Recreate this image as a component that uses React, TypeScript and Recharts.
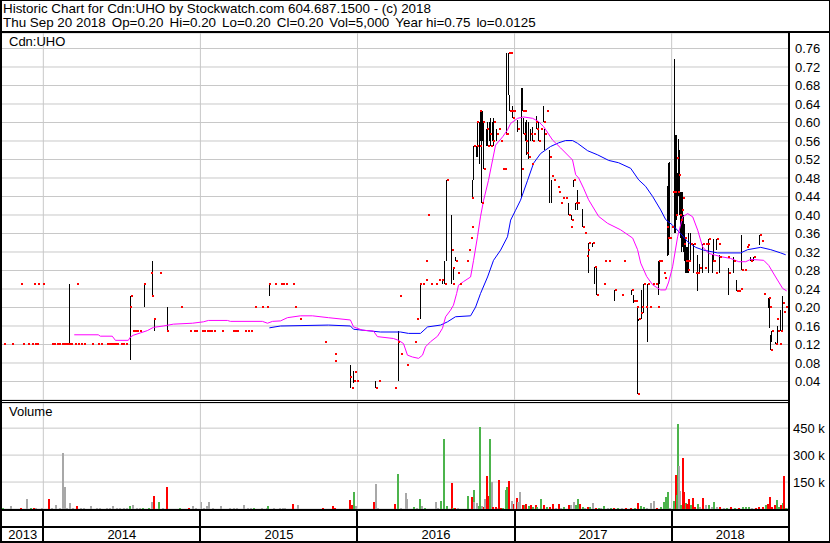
import React from "react";
import {
  ComposedChart,
  BarChart,
  Bar,
  Line,
  XAxis,
  YAxis,
  CartesianGrid,
  ReferenceLine,
  Cell,
} from "recharts";

const FONT = '"Liberation Sans", Arial, sans-serif';

// dates are decimal years
// days with a range: [date, high, low, close]
const priceBars: [number, number, number, number][] = [
  [2014.166, 0.25, 0.12, 0.12], [2014.554, 0.225, 0.087, 0.2], [2014.643, 0.25, 0.2, 0.25],
  [2014.694, 0.3, 0.225, 0.225], [2014.707, 0.175, 0.15, 0.175], [2014.79, 0.2, 0.15, 0.15],
  [2015.439, 0.25, 0.225, 0.25], [2015.955, 0.075, 0.025, 0.05], [2015.975, 0.063, 0.036, 0.04],
  [2016.115, 0.04, 0.025, 0.025], [2016.261, 0.15, 0.04, 0.125], [2016.401, 0.25, 0.175, 0.25],
  [2016.541, 0.26, 0.25, 0.26], [2016.554, 0.3, 0.25, 0.25], [2016.567, 0.475, 0.3, 0.475],
  [2016.599, 0.4, 0.25, 0.325], [2016.611, 0.285, 0.26, 0.285], [2016.624, 0.31, 0.3, 0.3],
  [2016.732, 0.475, 0.437, 0.437], [2016.739, 0.55, 0.475, 0.55], [2016.758, 0.55, 0.525, 0.55],
  [2016.764, 0.6, 0.525, 0.6], [2016.777, 0.6, 0.51, 0.55], [2016.783, 0.625, 0.56, 0.625],
  [2016.79, 0.625, 0.425, 0.425], [2016.796, 0.625, 0.56, 0.6], [2016.803, 0.6, 0.5, 0.5],
  [2016.822, 0.585, 0.55, 0.585], [2016.828, 0.6, 0.55, 0.55], [2016.841, 0.6, 0.56, 0.575],
  [2016.847, 0.61, 0.55, 0.55], [2016.86, 0.6, 0.56, 0.56], [2016.866, 0.61, 0.55, 0.6],
  [2016.885, 0.585, 0.56, 0.575], [2016.949, 0.75, 0.575, 0.575], [2016.962, 0.75, 0.66, 0.75],
  [2016.968, 0.66, 0.625, 0.625], [2016.987, 0.635, 0.61, 0.61], [2017.019, 0.605, 0.58, 0.585],
  [2017.045, 0.675, 0.437, 0.5], [2017.051, 0.675, 0.625, 0.625], [2017.057, 0.61, 0.575, 0.575],
  [2017.07, 0.6, 0.56, 0.56], [2017.076, 0.605, 0.53, 0.535], [2017.089, 0.6, 0.52, 0.525],
  [2017.102, 0.585, 0.56, 0.575], [2017.115, 0.59, 0.56, 0.56], [2017.14, 0.615, 0.585, 0.585],
  [2017.153, 0.6, 0.56, 0.56], [2017.185, 0.635, 0.6, 0.6], [2017.191, 0.585, 0.54, 0.575],
  [2017.223, 0.54, 0.425, 0.525], [2017.236, 0.475, 0.425, 0.485], [2017.344, 0.425, 0.4, 0.4],
  [2017.363, 0.4, 0.39, 0.39], [2017.376, 0.475, 0.46, 0.475], [2017.389, 0.425, 0.41, 0.425],
  [2017.401, 0.455, 0.41, 0.425], [2017.433, 0.413, 0.375, 0.375], [2017.471, 0.34, 0.275, 0.34],
  [2017.497, 0.34, 0.33, 0.34], [2017.51, 0.287, 0.25, 0.287], [2017.522, 0.287, 0.226, 0.226],
  [2017.637, 0.237, 0.213, 0.237], [2017.745, 0.237, 0.226, 0.237], [2017.758, 0.226, 0.21, 0.213],
  [2017.783, 0.2, 0.0125, 0.0125], [2017.79, 0.175, 0.17, 0.175], [2017.809, 0.238, 0.175, 0.2],
  [2017.822, 0.25, 0.188, 0.25], [2017.847, 0.25, 0.125, 0.25], [2017.917, 0.3, 0.226, 0.3],
  [2017.924, 0.3, 0.25, 0.3], [2017.975, 0.463, 0.312, 0.35], [2017.981, 0.513, 0.313, 0.35],
  [2017.987, 0.515, 0.348, 0.35], [2018.019, 0.738, 0.36, 0.45], [2018.025, 0.574, 0.36, 0.4],
  [2018.032, 0.574, 0.389, 0.524], [2018.038, 0.49, 0.4, 0.45], [2018.045, 0.564, 0.44, 0.487],
  [2018.051, 0.54, 0.4, 0.4], [2018.057, 0.45, 0.35, 0.39], [2018.064, 0.45, 0.32, 0.41],
  [2018.07, 0.45, 0.33, 0.437], [2018.076, 0.4, 0.32, 0.337], [2018.083, 0.38, 0.3, 0.35],
  [2018.089, 0.348, 0.275, 0.3], [2018.096, 0.33, 0.275, 0.3], [2018.102, 0.33, 0.275, 0.28],
  [2018.108, 0.36, 0.275, 0.3], [2018.121, 0.36, 0.3, 0.337], [2018.14, 0.337, 0.275, 0.337],
  [2018.166, 0.313, 0.236, 0.275], [2018.178, 0.295, 0.275, 0.285], [2018.197, 0.337, 0.275, 0.337],
  [2018.236, 0.349, 0.275, 0.349], [2018.261, 0.313, 0.275, 0.3], [2018.268, 0.349, 0.3, 0.3],
  [2018.287, 0.349, 0.325, 0.349], [2018.306, 0.313, 0.275, 0.31], [2018.363, 0.285, 0.226, 0.275],
  [2018.395, 0.31, 0.275, 0.3], [2018.414, 0.26, 0.236, 0.236], [2018.446, 0.356, 0.28, 0.28],
  [2018.503, 0.31, 0.3, 0.3], [2018.522, 0.31, 0.3, 0.31], [2018.561, 0.356, 0.335, 0.356],
  [2018.618, 0.22, 0.198, 0.22], [2018.624, 0.218, 0.155, 0.2], [2018.631, 0.14, 0.108, 0.108],
  [2018.637, 0.15, 0.125, 0.15], [2018.662, 0.125, 0.12, 0.12], [2018.675, 0.16, 0.12, 0.15],
  [2018.694, 0.195, 0.15, 0.15], [2018.707, 0.224, 0.15, 0.21],
];

// days that traded at one price: [date, price]
const singleTrades: [number, number][] = [
  [2013.752, 0.12], [2013.803, 0.12], [2013.86, 0.25], [2013.873, 0.12], [2013.904, 0.12],
  [2013.93, 0.12], [2013.943, 0.25], [2013.949, 0.12], [2013.962, 0.12], [2013.968, 0.25],
  [2014.0, 0.25], [2014.057, 0.12], [2014.07, 0.12], [2014.089, 0.12], [2014.102, 0.12],
  [2014.121, 0.12], [2014.134, 0.12], [2014.146, 0.12], [2014.159, 0.12], [2014.178, 0.12],
  [2014.204, 0.12], [2014.217, 0.25], [2014.223, 0.12], [2014.242, 0.12], [2014.261, 0.12],
  [2014.312, 0.12], [2014.35, 0.12], [2014.369, 0.12], [2014.408, 0.12], [2014.42, 0.12],
  [2014.433, 0.12], [2014.446, 0.12], [2014.459, 0.12], [2014.471, 0.12], [2014.497, 0.12],
  [2014.51, 0.12], [2014.529, 0.12], [2014.561, 0.225], [2014.573, 0.15], [2014.586, 0.15],
  [2014.599, 0.15], [2014.618, 0.15], [2014.688, 0.275], [2014.745, 0.275], [2014.879, 0.2],
  [2014.936, 0.15], [2014.962, 0.15], [2014.975, 0.15], [2015.013, 0.15], [2015.025, 0.15],
  [2015.045, 0.15], [2015.057, 0.15], [2015.07, 0.15], [2015.089, 0.15], [2015.14, 0.15],
  [2015.21, 0.15], [2015.223, 0.15], [2015.236, 0.15], [2015.287, 0.15], [2015.306, 0.15],
  [2015.325, 0.15], [2015.35, 0.2], [2015.395, 0.2], [2015.427, 0.2], [2015.478, 0.25],
  [2015.51, 0.25], [2015.529, 0.25], [2015.548, 0.25], [2015.592, 0.25], [2015.605, 0.2],
  [2015.631, 0.175], [2015.796, 0.125], [2015.854, 0.1], [2015.86, 0.085], [2015.968, 0.025],
  [2015.981, 0.06], [2016.0, 0.04], [2016.14, 0.04], [2016.242, 0.025], [2016.268, 0.225],
  [2016.28, 0.1], [2016.318, 0.075], [2016.369, 0.125], [2016.382, 0.175], [2016.42, 0.25],
  [2016.433, 0.26], [2016.439, 0.3], [2016.452, 0.4], [2016.471, 0.25], [2016.503, 0.25],
  [2016.522, 0.26], [2016.605, 0.25], [2016.637, 0.275], [2016.65, 0.25], [2016.694, 0.3],
  [2016.707, 0.325], [2016.72, 0.35], [2016.726, 0.375], [2016.898, 0.585], [2016.911, 0.56],
  [2016.924, 0.5], [2016.936, 0.5], [2016.943, 0.575], [2016.975, 0.75], [2016.981, 0.625],
  [2016.994, 0.625], [2017.064, 0.625], [2017.108, 0.51], [2017.121, 0.575], [2017.134, 0.6],
  [2017.166, 0.585], [2017.204, 0.625], [2017.248, 0.475], [2017.274, 0.46], [2017.28, 0.45],
  [2017.293, 0.425], [2017.306, 0.437], [2017.325, 0.437], [2017.357, 0.375], [2017.446, 0.362],
  [2017.459, 0.312], [2017.465, 0.325], [2017.567, 0.25], [2017.573, 0.3], [2017.599, 0.3],
  [2017.682, 0.226], [2017.694, 0.3], [2017.771, 0.213], [2017.777, 0.2], [2017.803, 0.188],
  [2017.834, 0.2], [2017.86, 0.2], [2017.879, 0.25], [2017.898, 0.25], [2017.911, 0.2],
  [2017.93, 0.3], [2017.949, 0.275], [2017.955, 0.263], [2017.968, 0.375], [2018.0, 0.375],
  [2018.006, 0.45], [2018.153, 0.275], [2018.21, 0.285], [2018.217, 0.337], [2018.229, 0.337],
  [2018.28, 0.275], [2018.299, 0.337], [2018.357, 0.31], [2018.427, 0.236], [2018.439, 0.24],
  [2018.465, 0.28], [2018.478, 0.33], [2018.484, 0.335], [2018.573, 0.344], [2018.586, 0.23],
  [2018.669, 0.175], [2018.688, 0.12], [2018.713, 0.19], [2018.726, 0.2], [2018.739, 0.2],
];

// short moving average (magenta)
const shortAvg: [number, number][] = [
  [2014.197, 0.141], [2014.35, 0.141], [2014.363, 0.138], [2014.439, 0.138], [2014.459, 0.129],
  [2014.541, 0.129], [2014.554, 0.136], [2014.573, 0.14], [2014.618, 0.145], [2014.662, 0.15],
  [2014.701, 0.157], [2014.764, 0.16], [2014.828, 0.164], [2014.949, 0.166], [2015.019, 0.169],
  [2015.051, 0.172], [2015.172, 0.172], [2015.191, 0.17], [2015.395, 0.17], [2015.427, 0.166],
  [2015.459, 0.17], [2015.51, 0.171], [2015.554, 0.178], [2015.637, 0.182], [2015.713, 0.182],
  [2015.815, 0.178], [2015.955, 0.173], [2015.975, 0.158], [2016.032, 0.151], [2016.102, 0.149],
  [2016.127, 0.137], [2016.229, 0.133], [2016.261, 0.129], [2016.293, 0.122], [2016.318, 0.097],
  [2016.35, 0.093], [2016.389, 0.09], [2016.414, 0.097], [2016.433, 0.115], [2016.465, 0.126],
  [2016.51, 0.138], [2016.541, 0.155], [2016.561, 0.18], [2016.592, 0.194], [2016.611, 0.205],
  [2016.631, 0.23], [2016.643, 0.248], [2016.675, 0.256], [2016.72, 0.266], [2016.739, 0.302],
  [2016.764, 0.353], [2016.783, 0.396], [2016.803, 0.432], [2016.834, 0.475], [2016.86, 0.519],
  [2016.879, 0.551], [2016.924, 0.569], [2016.955, 0.584], [2016.975, 0.598], [2017.019, 0.609],
  [2017.057, 0.612], [2017.115, 0.609], [2017.153, 0.602], [2017.185, 0.591], [2017.242, 0.562],
  [2017.293, 0.545], [2017.369, 0.519], [2017.389, 0.487], [2017.408, 0.48], [2017.439, 0.458],
  [2017.471, 0.433], [2017.535, 0.397], [2017.592, 0.382], [2017.675, 0.368], [2017.752, 0.35],
  [2017.783, 0.325], [2017.803, 0.296], [2017.841, 0.267], [2017.879, 0.249], [2017.93, 0.238],
  [2017.962, 0.238], [2017.981, 0.255], [2018.006, 0.288], [2018.038, 0.353], [2018.07, 0.396],
  [2018.102, 0.403], [2018.134, 0.396], [2018.166, 0.367], [2018.197, 0.331], [2018.236, 0.317],
  [2018.28, 0.313], [2018.312, 0.31], [2018.376, 0.306], [2018.427, 0.299], [2018.471, 0.299],
  [2018.503, 0.304], [2018.586, 0.302], [2018.618, 0.291], [2018.662, 0.266], [2018.707, 0.241],
  [2018.732, 0.236],
];

// long moving average (blue)
const longAvg: [number, number][] = [
  [2015.439, 0.156], [2015.51, 0.16], [2015.815, 0.162], [2015.955, 0.16], [2015.975, 0.153],
  [2016.146, 0.147], [2016.274, 0.147], [2016.325, 0.144], [2016.401, 0.144], [2016.446, 0.158],
  [2016.529, 0.162], [2016.573, 0.169], [2016.624, 0.18], [2016.72, 0.182], [2016.752, 0.201],
  [2016.783, 0.23], [2016.828, 0.266], [2016.866, 0.302], [2016.911, 0.324], [2016.955, 0.353],
  [2016.975, 0.389], [2017.006, 0.41], [2017.038, 0.432], [2017.083, 0.475], [2017.121, 0.512],
  [2017.166, 0.533], [2017.229, 0.548], [2017.28, 0.556], [2017.325, 0.561], [2017.369, 0.561],
  [2017.401, 0.555], [2017.465, 0.539], [2017.529, 0.53], [2017.599, 0.518], [2017.662, 0.513],
  [2017.739, 0.501], [2017.79, 0.476], [2017.834, 0.462], [2017.879, 0.44], [2017.93, 0.411],
  [2017.962, 0.39], [2018.006, 0.378], [2018.057, 0.36], [2018.102, 0.342], [2018.153, 0.33],
  [2018.204, 0.324], [2018.293, 0.318], [2018.439, 0.318], [2018.484, 0.325], [2018.567, 0.33],
  [2018.631, 0.325], [2018.694, 0.318], [2018.726, 0.314],
];

// volume in thousands: [date, volume, u = up, d = down, n = unchanged]
const volumeBars: [number, number, string][] = [
  [2013.745, 7, "u"], [2013.796, 17, "n"], [2013.86, 7, "d"], [2013.898, 56, "n"], [2013.924, 7, "u"],
  [2013.943, 6, "d"], [2013.955, 6, "n"], [2013.994, 4, "n"], [2014.038, 56, "d"], [2014.057, 6, "n"],
  [2014.083, 22, "n"], [2014.108, 5, "n"], [2014.127, 310, "n"], [2014.14, 122, "n"], [2014.153, 7, "n"],
  [2014.172, 32, "n"], [2014.191, 6, "n"], [2014.217, 15, "d"], [2014.242, 6, "n"], [2014.261, 5, "n"],
  [2014.306, 15, "n"], [2014.344, 6, "n"], [2014.363, 5, "n"], [2014.408, 6, "n"], [2014.427, 7, "n"],
  [2014.446, 15, "n"], [2014.471, 6, "n"], [2014.49, 7, "n"], [2014.516, 5, "n"], [2014.535, 8, "n"],
  [2014.554, 15, "u"], [2014.573, 22, "n"], [2014.599, 6, "n"], [2014.618, 6, "n"], [2014.637, 8, "u"],
  [2014.675, 6, "u"], [2014.694, 41, "n"], [2014.707, 72, "d"], [2014.739, 41, "u"], [2014.764, 5, "n"],
  [2014.79, 122, "d"], [2014.873, 8, "u"], [2014.93, 5, "d"], [2014.955, 15, "n"], [2014.975, 6, "n"],
  [2015.006, 41, "n"], [2015.025, 8, "n"], [2015.045, 15, "n"], [2015.057, 41, "n"], [2015.083, 7, "n"],
  [2015.134, 15, "n"], [2015.191, 5, "n"], [2015.217, 5, "n"], [2015.236, 5, "n"], [2015.28, 22, "n"],
  [2015.306, 5, "n"], [2015.325, 5, "n"], [2015.344, 8, "u"], [2015.395, 5, "n"], [2015.427, 8, "n"],
  [2015.433, 15, "u"], [2015.471, 5, "n"], [2015.51, 8, "n"], [2015.529, 8, "n"], [2015.541, 8, "n"],
  [2015.592, 28, "d"], [2015.624, 22, "n"], [2015.783, 5, "d"], [2015.847, 15, "d"], [2015.86, 5, "d"],
  [2015.955, 48, "d"], [2015.968, 22, "d"], [2015.975, 93, "u"], [2015.994, 15, "n"], [2016.108, 41, "d"],
  [2016.121, 137, "n"], [2016.134, 5, "n"], [2016.236, 26, "d"], [2016.261, 195, "u"], [2016.28, 7, "n"],
  [2016.306, 87, "n"], [2016.318, 56, "n"], [2016.363, 11, "u"], [2016.382, 6, "n"], [2016.401, 54, "u"],
  [2016.414, 17, "n"], [2016.433, 6, "u"], [2016.497, 41, "n"], [2016.51, 6, "n"], [2016.535, 45, "u"],
  [2016.554, 388, "u"], [2016.567, 17, "u"], [2016.599, 147, "d"], [2016.611, 8, "u"], [2016.624, 8, "d"],
  [2016.643, 6, "n"], [2016.701, 72, "u"], [2016.732, 68, "d"], [2016.739, 106, "u"], [2016.745, 41, "n"],
  [2016.758, 32, "n"], [2016.771, 15, "u"], [2016.783, 457, "u"], [2016.796, 15, "n"], [2016.803, 12, "d"],
  [2016.815, 54, "n"], [2016.822, 184, "d"], [2016.834, 72, "d"], [2016.841, 124, "d"], [2016.847, 392, "u"],
  [2016.854, 149, "n"], [2016.866, 12, "d"], [2016.879, 12, "d"], [2016.892, 6, "n"], [2016.904, 161, "d"],
  [2016.917, 6, "d"], [2016.924, 6, "u"], [2016.943, 106, "u"], [2016.955, 124, "u"], [2016.962, 41, "n"],
  [2016.968, 156, "d"], [2016.981, 45, "n"], [2016.994, 26, "d"], [2017.013, 59, "d"], [2017.025, 41, "n"],
  [2017.032, 30, "u"], [2017.038, 97, "n"], [2017.051, 22, "d"], [2017.064, 20, "u"], [2017.076, 26, "d"],
  [2017.089, 15, "u"], [2017.102, 22, "d"], [2017.115, 12, "u"], [2017.134, 22, "d"], [2017.146, 10, "u"],
  [2017.166, 54, "u"], [2017.185, 22, "d"], [2017.204, 12, "u"], [2017.223, 10, "d"], [2017.242, 26, "d"],
  [2017.261, 8, "n"], [2017.28, 26, "d"], [2017.299, 6, "n"], [2017.318, 12, "u"], [2017.344, 22, "d"],
  [2017.357, 22, "n"], [2017.376, 37, "n"], [2017.389, 22, "u"], [2017.401, 56, "u"], [2017.414, 26, "d"],
  [2017.433, 10, "u"], [2017.446, 6, "n"], [2017.465, 12, "d"], [2017.478, 10, "u"], [2017.497, 32, "n"],
  [2017.516, 6, "d"], [2017.535, 8, "u"], [2017.548, 6, "n"], [2017.567, 15, "u"], [2017.592, 6, "n"],
  [2017.611, 8, "u"], [2017.631, 6, "d"], [2017.656, 6, "u"], [2017.682, 6, "n"], [2017.707, 6, "d"],
  [2017.739, 5, "d"], [2017.764, 6, "u"], [2017.783, 32, "d"], [2017.803, 15, "u"], [2017.822, 12, "u"],
  [2017.841, 8, "n"], [2017.866, 32, "n"], [2017.885, 45, "n"], [2017.904, 6, "d"], [2017.93, 10, "u"],
  [2017.949, 41, "u"], [2017.962, 68, "u"], [2017.975, 93, "u"], [2017.987, 6, "n"], [2018.013, 45, "u"],
  [2018.025, 189, "d"], [2018.032, 77, "u"], [2018.038, 472, "u"], [2018.045, 240, "n"], [2018.051, 100, "n"],
  [2018.057, 20, "u"], [2018.07, 282, "d"], [2018.076, 97, "d"], [2018.089, 32, "u"], [2018.096, 30, "d"],
  [2018.108, 54, "d"], [2018.121, 20, "u"], [2018.134, 59, "d"], [2018.146, 12, "d"], [2018.166, 26, "u"],
  [2018.178, 12, "n"], [2018.197, 59, "d"], [2018.217, 20, "n"], [2018.236, 22, "u"], [2018.255, 10, "n"],
  [2018.268, 41, "u"], [2018.287, 12, "n"], [2018.306, 10, "d"], [2018.331, 8, "n"], [2018.35, 6, "u"],
  [2018.376, 10, "d"], [2018.401, 6, "u"], [2018.427, 8, "d"], [2018.452, 10, "u"], [2018.471, 12, "u"],
  [2018.49, 10, "u"], [2018.51, 6, "n"], [2018.535, 8, "d"], [2018.554, 10, "d"], [2018.58, 12, "d"],
  [2018.599, 20, "u"], [2018.611, 26, "d"], [2018.624, 68, "d"], [2018.637, 12, "d"], [2018.656, 22, "d"],
  [2018.669, 48, "u"], [2018.682, 12, "u"], [2018.694, 22, "d"], [2018.707, 32, "u"], [2018.713, 184, "d"],
  [2018.726, 8, "u"], [2018.739, 5, "n"],
];

const priceTicks = [0.04, 0.08, 0.12, 0.16, 0.2, 0.24, 0.28, 0.32, 0.36, 0.4, 0.44, 0.48, 0.52, 0.56, 0.6, 0.64, 0.68, 0.72, 0.76];
const volumeTicks = [150, 300, 450];
const yearStarts = [2014, 2015, 2016, 2017, 2018];
const yearLabels = ["2013", "2014", "2015", "2016", "2017", "2018"];
const quoteItems = ["Thu Sep 20 2018", "Op=0.20", "Hi=0.20", "Lo=0.20", "Cl=0.20", "Vol=5,000", "Year hi=0.75", "lo=0.0125"];

const X_DOMAIN: [number, number] = [2013.737, 2018.747];
const VOL_COLORS: Record<string, string> = { u: "#4cb44c", d: "#ff0000", n: "#a8a8a8" };
const GRID = "#c8c8c8";

const W = 830;
const PLOT_LEFT = 2;
const AXIS_W = 41;
const PLOT_W = W - PLOT_LEFT - AXIS_W;

const priceData = [
  ...priceBars.map(([t, hi, lo, cl]) => ({ t, range: [lo, hi], cl })),
  ...singleTrades.map(([t, p]) => ({ t, cl: p })),
  ...shortAvg.map(([t, v]) => ({ t, ma1: v })),
  ...longAvg.map(([t, v]) => ({ t, ma2: v })),
].sort((a, b) => a.t - b.t);

const volumeData = volumeBars.map(([t, v, dir]) => ({ t, vol: v, dir }));

const xPixel = (t: number) => PLOT_LEFT + ((t - X_DOMAIN[0]) / (X_DOMAIN[1] - X_DOMAIN[0])) * PLOT_W;

const HiLoShape = (p: any) => {
  const { x, y, width, height } = p;
  if (y == null || height == null || isNaN(y)) return <g />;
  const top = height < 0 ? y + height : y;
  return (
    <rect
      x={Math.round(x + width / 2 - 0.5)}
      y={top}
      width={1}
      height={Math.max(Math.abs(height), 1)}
      fill="#000"
      shapeRendering="crispEdges"
    />
  );
};

const VolShape = (p: any) => {
  const { x, y, width, height, fill } = p;
  if (y == null || isNaN(y)) return <g />;
  return (
    <rect
      x={Math.round(x + width / 2 - 1)}
      y={y}
      width={2}
      height={Math.max(height, 1)}
      fill={fill}
      shapeRendering="crispEdges"
    />
  );
};

const CloseMark = (p: any) => {
  const { cx, cy, index, payload } = p;
  if (cy == null || payload.cl == null) return <g key={`c${index}`} />;
  return (
    <rect
      key={`c${index}`}
      x={Math.round(cx)}
      y={Math.round(cy) - 1}
      width={2}
      height={2}
      fill="#ff0000"
      shapeRendering="crispEdges"
    />
  );
};

const hLine = (top: number, h: number, left = 0, width = W): React.CSSProperties => ({
  position: "absolute",
  left,
  top,
  width,
  height: h,
  background: "#000",
});

export default function App() {
  const segs = [X_DOMAIN[0], ...yearStarts, X_DOMAIN[1]];
  return (
    <div
      style={{
        position: "absolute",
        left: 0,
        top: 0,
        width: W,
        height: 543,
        background: "#fff",
        fontFamily: FONT,
        overflow: "hidden",
      }}
    >
      <div style={{ position: "absolute", left: 3, top: 2, fontSize: 13.4, lineHeight: "14px", whiteSpace: "pre" }}>
        Historic Chart for Cdn:UHO by Stockwatch.com 604.687.1500 - (c) 2018
      </div>
      <div style={{ position: "absolute", left: 3, top: 16, fontSize: 13.4, lineHeight: "14px", whiteSpace: "pre" }}>
        {quoteItems.map((s, i) => (
          <span key={i} style={{ marginRight: i < quoteItems.length - 1 ? 6 : 0 }}>
            {s}
          </span>
        ))}
      </div>

      <div style={{ position: "absolute", left: PLOT_LEFT, top: 33 }}>
        <ComposedChart width={W - PLOT_LEFT} height={367} data={priceData} margin={{ top: 0, right: 0, bottom: 0, left: 0 }}>
          <CartesianGrid vertical={false} stroke={GRID} />
          <XAxis dataKey="t" type="number" domain={X_DOMAIN} allowDataOverflow ticks={yearStarts} hide />
          <YAxis
            orientation="right"
            type="number"
            domain={[0, 0.7935]}
            ticks={priceTicks}
            interval={0}
            width={AXIS_W}
            tickSize={0}
            tickMargin={6}
            tickFormatter={(v) => Number(v).toFixed(2)}
            tick={{ fill: "#000", fontSize: 13, fontFamily: FONT }}
            axisLine={{ stroke: "#000", strokeWidth: 2 }}
            tickLine={false}
            allowDataOverflow
          />
          {yearStarts.map((y) => (
            <ReferenceLine key={y} x={y} stroke={GRID} />
          ))}
          <Bar dataKey="range" barSize={1} shape={HiLoShape} isAnimationActive={false} />
          <Line dataKey="ma2" stroke="#0000ff" strokeWidth={1} dot={false} activeDot={false} connectNulls isAnimationActive={false} />
          <Line dataKey="ma1" stroke="#ff00ff" strokeWidth={1} dot={false} activeDot={false} connectNulls isAnimationActive={false} />
          <Line dataKey="cl" stroke="none" strokeWidth={0} dot={CloseMark} activeDot={false} isAnimationActive={false} />
        </ComposedChart>
      </div>
      <div style={{ position: "absolute", left: 9, top: 35, fontSize: 13, lineHeight: "14px" }}>Cdn:UHO</div>

      <div style={{ position: "absolute", left: PLOT_LEFT, top: 403 }}>
        <BarChart width={W - PLOT_LEFT} height={106} data={volumeData} margin={{ top: 0, right: 0, bottom: 0, left: 0 }}>
          <CartesianGrid vertical={false} stroke={GRID} />
          <XAxis dataKey="t" type="number" domain={X_DOMAIN} allowDataOverflow ticks={yearStarts} hide />
          <YAxis
            orientation="right"
            type="number"
            domain={[0, 590]}
            ticks={volumeTicks}
            interval={0}
            width={AXIS_W}
            tickSize={0}
            tickMargin={4}
            tickFormatter={(v) => `${v} k`}
            tick={{ fill: "#000", fontSize: 13, fontFamily: FONT }}
            axisLine={{ stroke: "#000", strokeWidth: 2 }}
            tickLine={false}
            allowDataOverflow
          />
          {yearStarts.map((y) => (
            <ReferenceLine key={y} x={y} stroke={GRID} />
          ))}
          <Bar dataKey="vol" barSize={2} shape={VolShape} isAnimationActive={false}>
            {volumeData.map((d, i) => (
              <Cell key={i} fill={VOL_COLORS[d.dir]} />
            ))}
          </Bar>
        </BarChart>
      </div>
      <div style={{ position: "absolute", left: 9, top: 405, fontSize: 13, lineHeight: "14px" }}>Volume</div>

      {/* frame and panel rules */}
      <div style={hLine(0, 1)} />
      <div style={hLine(31, 2)} />
      <div style={hLine(400, 1, 0, 790)} />
      <div style={hLine(402, 1, 0, 790)} />
      <div style={hLine(509, 2, 0, 790)} />
      <div style={hLine(526, 2, 0, 790)} />
      <div style={hLine(541, 2)} />
      <div style={{ position: "absolute", left: 0, top: 0, width: 2, height: 543, background: "#000" }} />
      <div style={{ position: "absolute", left: 788, top: 33, width: 2, height: 510, background: "#000" }} />
      <div style={{ position: "absolute", left: 829, top: 0, width: 1, height: 543, background: "#000" }} />
      {yearStarts.map((y) => (
        <div
          key={y}
          style={{ position: "absolute", left: Math.round(xPixel(y)) - 1, top: 511, width: 2, height: 30, background: "#000" }}
        />
      ))}
      {yearLabels.map((label, i) => {
        const mid = (xPixel(segs[i]) + xPixel(segs[i + 1])) / 2;
        return (
          <div
            key={label}
            style={{
              position: "absolute",
              left: mid - 30,
              width: 60,
              top: 528,
              textAlign: "center",
              fontSize: 13,
              lineHeight: "13px",
            }}
          >
            {label}
          </div>
        );
      })}
    </div>
  );
}
